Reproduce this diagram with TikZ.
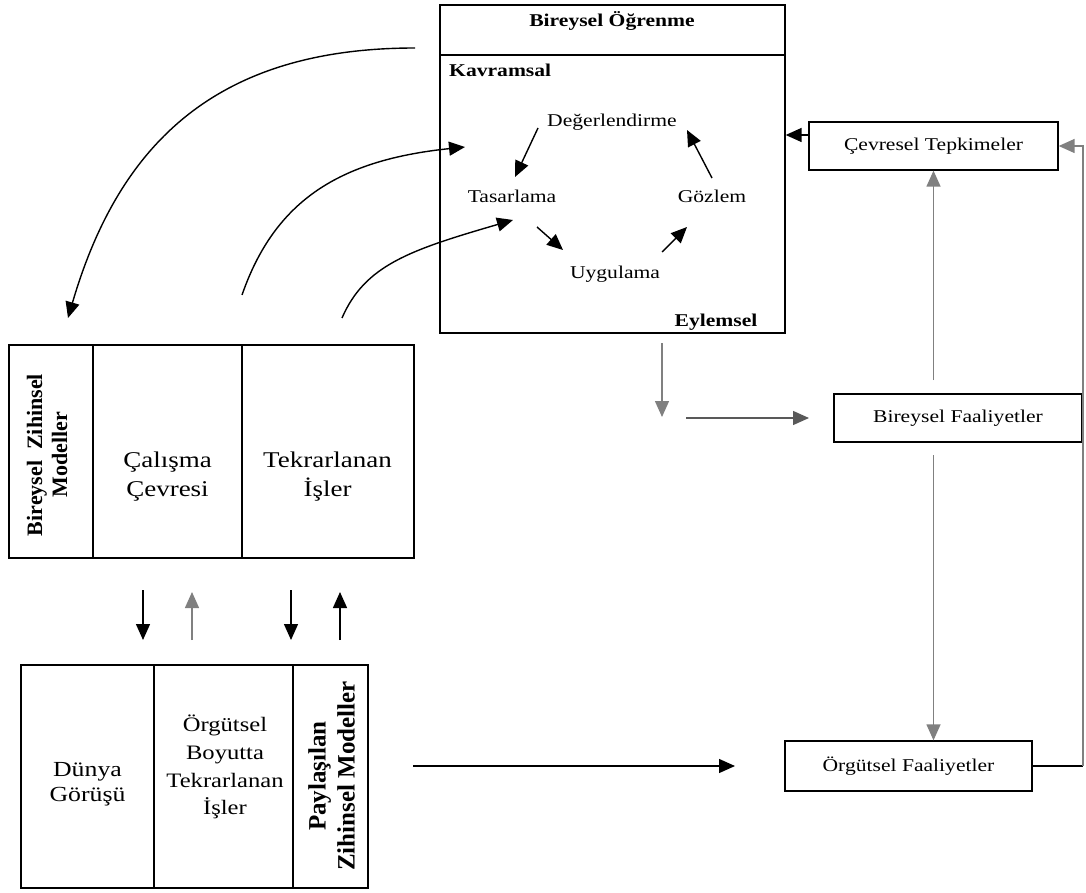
\documentclass[tikz,border=0pt]{standalone}
\usepackage{fontspec}
\setmainfont{Liberation Serif}[FakeStretch=1.2]
\newfontfamily\upfont{Liberation Serif}
\usetikzlibrary{arrows.meta}

\begin{document}
\begin{tikzpicture}[x=1pt,y=-1pt,
  box/.style={draw, line width=1.3pt, inner sep=0pt},
  conn/.style={line width=1.4pt, -{Triangle[length=16pt,width=14pt]}},
  gconn/.style={conn, draw=black!50},
  lbl/.style={font=\fontsize{18}{21}\selectfont, inner sep=0pt},
  btxt/.style={font=\fontsize{18}{21}\selectfont\bfseries, inner sep=0pt},
  bigtxt/.style={font=\fontsize{22.5}{29}\selectfont, inner sep=0pt, align=center},
  dgtxt/.style={font=\fontsize{21.5}{25}\selectfont, inner sep=0pt, align=center},
  obtxt/.style={font=\fontsize{20.5}{27.8}\selectfont, inner sep=0pt, align=center},
  rottxt/.style={inner sep=0pt, align=center, rotate=90}
]
\useasboundingbox (0,0) rectangle (1086,893);

% ---- individual learning frame ----
\node[box, minimum width=345pt, minimum height=328pt] (bo) at (612.5,169) {};
\coordinate (sep) at (0,55);
\draw[line width=1.3pt] (bo.west |- sep) -- (bo.east |- sep);
\node[btxt, anchor=base] (bot) at (612,27) {Bireysel Öğrenme};
\node[btxt, anchor=base west] (kav) at (449,77) {Kavramsal};
\node[btxt, anchor=base] (eyl) at (716,326) {Eylemsel};

% learning cycle
\node[lbl, anchor=base] (deg) at (612,127) {Değerlendirme};
\node[lbl, anchor=base] (tas) at (512,203) {Tasarlama};
\node[lbl, anchor=base] (goz) at (712,203) {Gözlem};
\node[lbl, anchor=base] (uyg) at (615,278) {Uygulama};
\coordinate (dt1) at (538,128); \coordinate (dt2) at (515,177);
\coordinate (tu1) at (537,227); \coordinate (tu2) at (563,250);
\coordinate (ug1) at (662,252); \coordinate (ug2) at (687,227);
\coordinate (gd1) at (712,178); \coordinate (gd2) at (687,130);
\draw[conn] (dt1) -- (dt2);
\draw[conn] (tu1) -- (tu2);
\draw[conn] (ug1) -- (ug2);
\draw[conn] (gd1) -- (gd2);

% ---- individual mental models table ----
\node[box, minimum width=84pt, minimum height=213pt] (bzm) at (51,451.5) {};
\node[box, minimum width=149pt, minimum height=213pt] (cc) at (167.5,451.5) {};
\node[box, minimum width=172pt, minimum height=213pt] (ti) at (328,451.5) {};
\node[rottxt, font=\upfont\bfseries\fontsize{22}{25}\selectfont] (bzmt) at (47,455) {Bireysel\ \ Zihinsel\\Modeller};
\node[bigtxt] (cct) at (167.5,477) {Çalışma\\Çevresi};
\node[bigtxt] (tit) at (327.5,477) {Tekrarlanan\\İşler};

% ---- shared mental models table ----
\node[box, minimum width=133pt, minimum height=223pt] (dg) at (87.5,776.5) {};
\node[box, minimum width=139pt, minimum height=223pt] (obt) at (223.5,776.5) {};
\node[box, minimum width=75pt, minimum height=223pt] (pzm) at (330.5,776.5) {};
\node[dgtxt] (dgt) at (87.5,784) {Dünya\\Görüşü};
\node[obtxt] (obtt) at (225,767) {Örgütsel\\Boyutta\\Tekrarlanan\\İşler};
\node[rottxt, font=\upfont\bfseries\fontsize{25}{29}\selectfont] (pzmt) at (331.5,776) {Paylaşılan\\Zihinsel Modeller};

% arrows between the two tables
\coordinate (a1s) at (143,590); \coordinate (a1e) at (143,640);
\coordinate (a2s) at (192,640); \coordinate (a2e) at (192,592);
\coordinate (a3s) at (291,590); \coordinate (a3e) at (291,640);
\coordinate (a4s) at (340,640); \coordinate (a4e) at (340,592);
\draw[conn] (a1s) -- (a1e);
\draw[gconn] (a2s) -- (a2e);
\draw[conn] (a3s) -- (a3e);
\draw[conn] (a4s) -- (a4e);

% curved links between the frame and the upper table
\coordinate (c1a) at (415,48);  \coordinate (c1b) at (68,318);
\coordinate (c2a) at (242,295); \coordinate (c2b) at (465,147);
\coordinate (c3a) at (342,318); \coordinate (c3b) at (513,220);
\draw[conn] (c1a) .. controls (220,48) and (120,140) .. (c1b);
\draw[conn] (c2a) .. controls (275,200) and (340,160) .. (c2b);
\draw[conn] (c3a) .. controls (365,265) and (410,250) .. (c3b);

% ---- activity boxes ----
\node[box, lbl, minimum width=249pt, minimum height=48pt] (ct) at (933.5,146) {Çevresel Tepkimeler};
\node[box, lbl, minimum width=248pt, minimum height=48pt] (bf) at (958,418) {Bireysel Faaliyetler};
\node[box, lbl, minimum width=247pt, minimum height=50pt] (of) at (908.5,766) {Örgütsel Faaliyetler};

% links on the right
\coordinate (ctl) at (0,135);
\draw[conn] (ct.west |- ctl) -- (bo.east |- ctl);
\coordinate (e1) at (662,343); \coordinate (e2) at (662,417);
\draw[gconn] (e1) -- (e2);
\coordinate (h1) at (686,418); \coordinate (h2) at (809,418);
\draw[conn, draw=black!65] (h1) -- (h2);
\coordinate (bfu) at (933.5,380);
\draw[gconn] (bfu) -- (ct.south);
\coordinate (bfd) at (933.5,455);
\draw[gconn] (bfd) -- (bfd |- of.north);
\coordinate (b1) at (413,766); \coordinate (b2) at (735,766);
\draw[conn] (b1) -- (b2);
\coordinate (rb) at (1083,766); \coordinate (rc) at (1083,146);
\draw[line width=1.4pt] (of.east) -- (rb);
\draw[gconn] (rb) -- (rc) -- (ct.east);
\end{tikzpicture}
\end{document}
